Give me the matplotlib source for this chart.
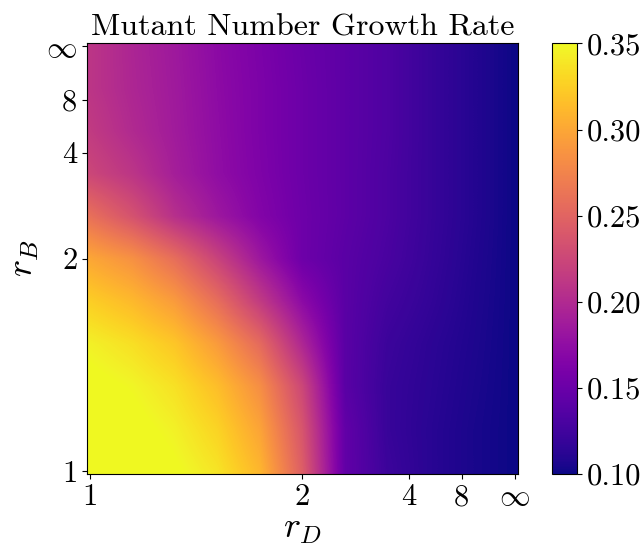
import matplotlib.pyplot as plt
import numpy as np
from matplotlib.ticker import FormatStrFormatter

# Computer Modern look
plt.rcParams['font.family'] = 'serif'
plt.rcParams['font.serif'] = ['cmr10']
plt.rcParams['mathtext.fontset'] = 'cm'
plt.rcParams['font.size'] = 22

# grid positions on the transformed axes, u = 1 - 1/r (spacing 0.1)
u_nodes = [0.0, 0.1, 0.2, 0.3, 0.4, 0.5, 0.6, 0.7, 0.8, 0.9, 1.0]
v_nodes = [0.0, 0.1, 0.2, 0.3, 0.4, 0.5, 0.6, 0.7, 0.8, 0.9, 1.0]

# growth rate, rows from r_B = 1 (bottom) to r_B = inf (top)
growth = [
    [0.360, 0.360, 0.352, 0.338, 0.310, 0.245, 0.145, 0.122, 0.112, 0.105, 0.100],
    [0.360, 0.355, 0.345, 0.328, 0.298, 0.237, 0.145, 0.120, 0.112, 0.105, 0.100],
    [0.355, 0.348, 0.336, 0.315, 0.283, 0.225, 0.140, 0.120, 0.113, 0.106, 0.100],
    [0.345, 0.335, 0.320, 0.292, 0.255, 0.197, 0.140, 0.122, 0.114, 0.107, 0.100],
    [0.325, 0.312, 0.292, 0.258, 0.215, 0.172, 0.140, 0.126, 0.117, 0.108, 0.100],
    [0.300, 0.285, 0.258, 0.222, 0.184, 0.152, 0.140, 0.130, 0.119, 0.109, 0.100],
    [0.260, 0.235, 0.205, 0.184, 0.166, 0.152, 0.142, 0.132, 0.120, 0.110, 0.100],
    [0.225, 0.210, 0.190, 0.175, 0.163, 0.151, 0.142, 0.132, 0.120, 0.110, 0.100],
    [0.215, 0.200, 0.187, 0.174, 0.162, 0.151, 0.142, 0.133, 0.120, 0.110, 0.100],
    [0.210, 0.197, 0.186, 0.173, 0.162, 0.151, 0.142, 0.133, 0.120, 0.110, 0.100],
    [0.210, 0.196, 0.185, 0.172, 0.161, 0.150, 0.142, 0.133, 0.120, 0.110, 0.100],
]

tick_r = [1, 2, 4, 8, np.inf]
tick_labels = ['1', '2', '4', '8', r'$\infty$']
cbar_ticks = [0.10, 0.15, 0.20, 0.25, 0.30, 0.35]

fig = plt.figure(figsize=(6.4, 5.47), dpi=100)
ax = fig.add_axes([0.136, 0.1335, 0.673, 0.787])

# pixel centres sit on the grid nodes
du = (u_nodes[1] - u_nodes[0]) / 2
dv = (v_nodes[1] - v_nodes[0]) / 2
extent = (u_nodes[0] - du, u_nodes[-1] + du, v_nodes[0] - dv, v_nodes[-1] + dv)
img = ax.imshow(np.array(growth), origin='lower', extent=extent, aspect='auto',
                cmap='plasma', vmin=0.10, vmax=0.35,
                interpolation='bilinear', interpolation_stage='data')

# edge cells run a little past the tick positions
pad = 0.007
ax.set_xlim(u_nodes[0] - pad, u_nodes[-1] + pad)
ax.set_ylim(v_nodes[0] - pad, v_nodes[-1] + pad)

ticks = [1 - 1 / r for r in tick_r]
ax.set_xticks(ticks)
ax.set_xticklabels(tick_labels)
ax.set_yticks(ticks)
ax.set_yticklabels(tick_labels)

ax.set_xlabel('$r_D$', fontsize=26, labelpad=2)
ax.set_ylabel('$r_B$', fontsize=26, labelpad=4)
ax.set_title('Mutant Number Growth Rate', fontsize=23, pad=6)

cax = fig.add_axes([0.8625, 0.1335, 0.039, 0.787])
cbar = fig.colorbar(img, cax=cax, ticks=cbar_ticks)
cbar.ax.yaxis.set_major_formatter(FormatStrFormatter('%.2f'))

fig.savefig('out.png', dpi=100)
